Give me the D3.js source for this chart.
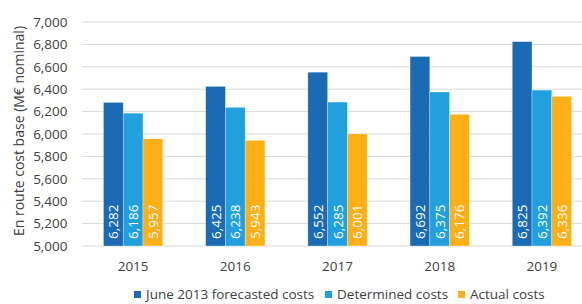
<!DOCTYPE html>
<html>
<head>
<meta charset="utf-8">
<script src="https://cdn.jsdelivr.net/npm/d3@7"></script>
<style>
  body { margin: 0; background: #fff; }
  text { font-family: "Open Sans", sans-serif; fill: #404040; }
</style>
</head>
<body>
<svg id="chart" width="582" height="304"></svg>
<script>
// chart values
var years = ['2015', '2016', '2017', '2018', '2019'];
var forecastCosts = [6282, 6425, 6552, 6692, 6825];
var determinedCosts = [6186, 6238, 6285, 6375, 6392];
var actualCosts = [5957, 5943, 6001, 6176, 6336];
var seriesNames = ['June 2013 forecasted costs', 'Determined costs', 'Actual costs'];
var yTicks = [5000, 5200, 5400, 5600, 5800, 6000, 6200, 6400, 6600, 6800, 7000];

var colors = ['#1b6ab4', '#22a0dd', '#fdaf17'];
var series = [forecastCosts, determinedCosts, actualCosts];

var svg = d3.select('#chart');
// note: "top" is a reserved window global, so use plot* names
var plotLeft = 82, plotRight = 593, plotTop = 22, plotBottom = 246;

var x = d3.scaleBand().domain(years).range([plotLeft, plotRight]).paddingInner(0.42).paddingOuter(0.21);
var xInner = d3.scaleBand().domain(d3.range(series.length)).range([0, x.bandwidth()]);
var y = d3.scaleLinear().domain([5000, 7000]).range([plotBottom, plotTop]);
var fmt = d3.format(',');

// gridlines
svg.append('g')
  .selectAll('line').data(yTicks).enter()
  .append('line')
  .attr('x1', plotLeft).attr('x2', 582)
  .attr('y1', function (d) { return y(d); })
  .attr('y2', function (d) { return y(d); })
  .style('stroke', '#d9d9d9')
  .style('stroke-width', 1);

// y axis labels
var yAxis = d3.axisLeft(y).tickValues(yTicks).tickFormat(fmt).tickSize(0).tickPadding(0);
var yg = svg.append('g').attr('transform', 'translate(67.5,0)').call(yAxis);
yg.select('.domain').remove();
yg.selectAll('text').style('font-size', '13.5px').style('font-family', '"Open Sans", sans-serif').attr('fill', '#404040');

// x axis labels
var xAxis = d3.axisBottom(x).tickSize(0).tickPadding(0);
var xg = svg.append('g').attr('transform', 'translate(0,271)').call(xAxis);
xg.select('.domain').remove();
xg.selectAll('text').attr('y', 0).attr('dy', 0)
  .style('font-size', '13.5px').style('font-family', '"Open Sans", sans-serif').attr('fill', '#404040');

function seriesPoints(vals, i) {
  return vals.map(function (v, j) { return { s: i, year: years[j], value: v }; });
}

// bars
var groups = svg.append('g').selectAll('g').data(series).enter()
  .append('g');

groups.selectAll('rect')
  .data(seriesPoints)
  .enter().append('rect')
  .attr('x', function (d) { return x(d.year) + xInner(d.s); })
  .attr('width', xInner.bandwidth())
  .attr('y', function (d) { return y(d.value); })
  .attr('height', function (d) { return plotBottom - y(d.value); })
  .style('fill', function (d) { return colors[d.s]; })
  .style('stroke', 'rgba(255,255,255,0.5)')
  .style('stroke-width', 0.6);

// value labels inside bars
groups.selectAll('text')
  .data(seriesPoints)
  .enter().append('text')
  .attr('transform', function (d) {
    var cx = x(d.year) + xInner(d.s) + xInner.bandwidth() / 2 + 5;
    return 'translate(' + cx + ',' + (plotBottom - 7) + ') rotate(-90)';
  })
  .style('font-size', '13.5px')
  .style('fill', '#fff')
  .text(function (d) { return fmt(d.value); });

// y axis title
svg.append('text')
  .attr('transform', 'translate(24,131) rotate(-90)')
  .attr('text-anchor', 'middle')
  .style('font-size', '14px')
  .text('En route cost base (M\u20ac nominal)');

// legend
var legendX = [134, 325, 458];
var legend = svg.append('g').selectAll('g').data(seriesNames).enter()
  .append('g')
  .attr('transform', function (d, i) { return 'translate(' + legendX[i] + ',299)'; });
legend.append('rect')
  .attr('x', 0).attr('y', -8).attr('width', 7).attr('height', 7)
  .style('fill', function (d, i) { return colors[i]; });
legend.append('text')
  .attr('x', 12).attr('y', 0)
  .style('font-size', '13.5px')
  .text(function (d) { return d; });
</script>
</body>
</html>
